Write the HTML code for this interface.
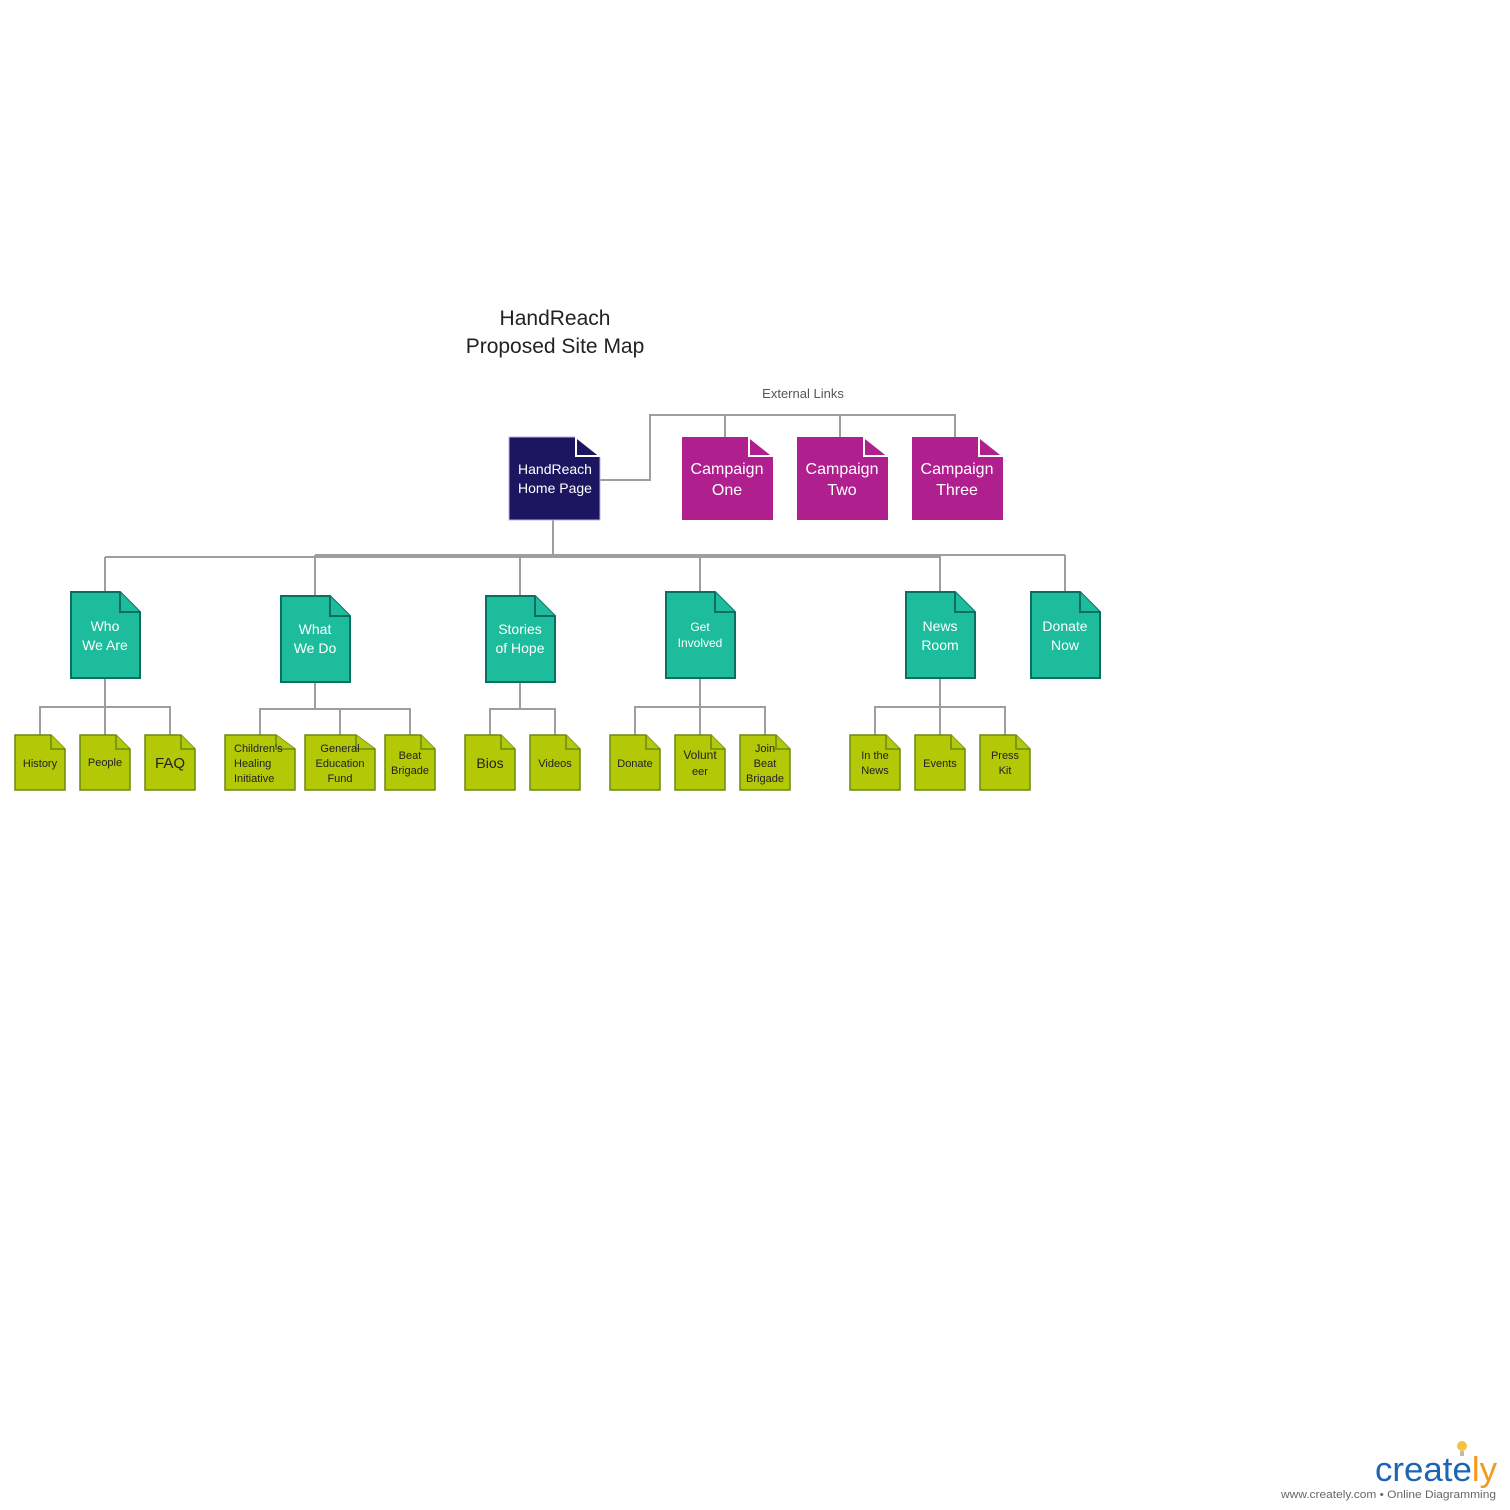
<!DOCTYPE html>
<html><head><meta charset="utf-8"><style>
html,body{margin:0;padding:0;background:#fff}
svg{display:block}
text{font-family:"Liberation Sans",sans-serif}
</style></head><body>
<svg width="1510" height="1510" viewBox="0 0 1510 1510" xmlns="http://www.w3.org/2000/svg">
<text x="555" y="325" font-size="21" fill="#222" text-anchor="middle">HandReach</text>
<text x="555" y="353" font-size="21" fill="#222" text-anchor="middle">Proposed Site Map</text>
<text x="803" y="398" font-size="13" fill="#555" text-anchor="middle">External Links</text>
<g stroke="#9e9e9e" stroke-width="2" fill="none">
<polyline points="600,480 650,480 650,415 955,415 955,437"/>
<line x1="725" y1="415" x2="725" y2="437"/><line x1="840" y1="415" x2="840" y2="437"/>
<line x1="553" y1="520" x2="553" y2="555"/>
<line x1="105" y1="557" x2="940" y2="557"/>
<line x1="315" y1="555" x2="1065" y2="555"/>
<line x1="105" y1="557" x2="105" y2="592"/><line x1="315" y1="555" x2="315" y2="596"/>
<line x1="520" y1="556" x2="520" y2="596"/><line x1="700" y1="556" x2="700" y2="592"/>
<line x1="940" y1="556" x2="940" y2="592"/><line x1="1065" y1="555" x2="1065" y2="592"/>
<polyline points="105,678 105,707"/><polyline points="40,735 40,707 170,707 170,735"/><line x1="105" y1="707" x2="105" y2="735"/>
<polyline points="315,682 315,709"/><polyline points="260,735 260,709 410,709 410,735"/><line x1="340" y1="709" x2="340" y2="735"/>
<polyline points="520,682 520,709"/><polyline points="490,735 490,709 555,709 555,735"/>
<polyline points="700,678 700,707"/><polyline points="635,735 635,707 765,707 765,735"/><line x1="700" y1="707" x2="700" y2="735"/>
<polyline points="940,678 940,707"/><polyline points="875,735 875,707 1005,707 1005,735"/><line x1="940" y1="707" x2="940" y2="735"/>
</g>
<path d="M509,437 H576 L600,456 V520 H509 Z" fill="#1c1660" stroke="#b8b4dc" stroke-width="1"/>
<path d="M576,437 V456 H600 Z" fill="#1c1660" stroke="#fff" stroke-width="2"/>
<text x="555" y="474" font-size="14" fill="#fff" text-anchor="middle">HandReach</text>
<text x="555" y="493" font-size="14" fill="#fff" text-anchor="middle">Home Page</text>
<g font-size="16" fill="#fff" text-anchor="middle">
<path d="M682,437 H749 L773,456 V520 H682 Z" fill="#b01f8e"/><path d="M749,437 V456 H773 Z" fill="#b01f8e" stroke="#fff" stroke-width="2"/>
<text x="727" y="474">Campaign</text><text x="727" y="495">One</text>
<path d="M797,437 H864 L888,456 V520 H797 Z" fill="#b01f8e"/><path d="M864,437 V456 H888 Z" fill="#b01f8e" stroke="#fff" stroke-width="2"/>
<text x="842" y="474">Campaign</text><text x="842" y="495">Two</text>
<path d="M912,437 H979 L1003,456 V520 H912 Z" fill="#b01f8e"/><path d="M979,437 V456 H1003 Z" fill="#b01f8e" stroke="#fff" stroke-width="2"/>
<text x="957" y="474">Campaign</text><text x="957" y="495">Three</text>
</g>
<g stroke="#0b6e60" stroke-width="2" fill="#1cbc9c">
<path d="M71,592 H120 L140,612 V678 H71 Z"/><path d="M120,592 V612 H140"/>
<path d="M281,596 H330 L350,616 V682 H281 Z"/><path d="M330,596 V616 H350"/>
<path d="M486,596 H535 L555,616 V682 H486 Z"/><path d="M535,596 V616 H555"/>
<path d="M666,592 H715 L735,612 V678 H666 Z"/><path d="M715,592 V612 H735"/>
<path d="M906,592 H955 L975,612 V678 H906 Z"/><path d="M955,592 V612 H975"/>
<path d="M1031,592 H1080 L1100,612 V678 H1031 Z"/><path d="M1080,592 V612 H1100"/>
</g>
<g font-size="14" fill="#fff" text-anchor="middle">
<text x="105" y="631">Who</text><text x="105" y="650">We Are</text>
<text x="315" y="634">What</text><text x="315" y="653">We Do</text>
<text x="520" y="634">Stories</text><text x="520" y="653">of Hope</text>
<text x="700" y="631" font-size="12">Get</text><text x="700" y="647" font-size="12">Involved</text>
<text x="940" y="631">News</text><text x="940" y="650">Room</text>
<text x="1065" y="631">Donate</text><text x="1065" y="650">Now</text>
</g>
<g stroke="#6a8a10" stroke-width="1.5" fill="#b3c806">
<path d="M15,735 H51 L65,749 V790 H15 Z"/><path d="M51,735 V749 H65"/>
<path d="M80,735 H116 L130,749 V790 H80 Z"/><path d="M116,735 V749 H130"/>
<path d="M145,735 H181 L195,749 V790 H145 Z"/><path d="M181,735 V749 H195"/>
<path d="M225,735 H276 L295,749 V790 H225 Z"/><path d="M276,735 V749 H295"/>
<path d="M305,735 H356 L375,749 V790 H305 Z"/><path d="M356,735 V749 H375"/>
<path d="M385,735 H421 L435,749 V790 H385 Z"/><path d="M421,735 V749 H435"/>
<path d="M465,735 H501 L515,749 V790 H465 Z"/><path d="M501,735 V749 H515"/>
<path d="M530,735 H566 L580,749 V790 H530 Z"/><path d="M566,735 V749 H580"/>
<path d="M610,735 H646 L660,749 V790 H610 Z"/><path d="M646,735 V749 H660"/>
<path d="M675,735 H711 L725,749 V790 H675 Z"/><path d="M711,735 V749 H725"/>
<path d="M740,735 H776 L790,749 V790 H740 Z"/><path d="M776,735 V749 H790"/>
<path d="M850,735 H886 L900,749 V790 H850 Z"/><path d="M886,735 V749 H900"/>
<path d="M915,735 H951 L965,749 V790 H915 Z"/><path d="M951,735 V749 H965"/>
<path d="M980,735 H1016 L1030,749 V790 H980 Z"/><path d="M1016,735 V749 H1030"/>
</g>
<g font-size="11" fill="#222" text-anchor="middle">
<text x="40" y="767">History</text><text x="105" y="766">People</text>
<text x="170" y="768" font-size="15">FAQ</text>
<text x="234" y="752" text-anchor="start">Children's</text><text x="234" y="767" text-anchor="start">Healing</text><text x="234" y="782" text-anchor="start">Initiative</text>
<text x="340" y="752">General</text><text x="340" y="767">Education</text><text x="340" y="782">Fund</text>
<text x="410" y="759">Beat</text><text x="410" y="774">Brigade</text>
<text x="490" y="768" font-size="14">Bios</text><text x="555" y="767">Videos</text>
<text x="635" y="767">Donate</text>
<text x="700" y="759" font-size="12">Volunt</text><text x="700" y="775">eer</text>
<text x="765" y="752">Join</text><text x="765" y="767">Beat</text><text x="765" y="782">Brigade</text>
<text x="875" y="759">In the</text><text x="875" y="774">News</text>
<text x="940" y="767">Events</text>
<text x="1005" y="759">Press</text><text x="1005" y="774">Kit</text>
</g>
<circle cx="1462" cy="1446" r="5" fill="#f5c242"/><rect x="1460" y="1451" width="4" height="5" fill="#bbb"/>
<text x="1375" y="1481" font-size="34" fill="#1c64b4" textLength="122" lengthAdjust="spacingAndGlyphs">create<tspan fill="#f29a1d">ly</tspan></text>
<text x="1496" y="1498" font-size="11" fill="#666" text-anchor="end" textLength="215" lengthAdjust="spacingAndGlyphs">www.creately.com • Online Diagramming</text>
</svg>
</body></html>
